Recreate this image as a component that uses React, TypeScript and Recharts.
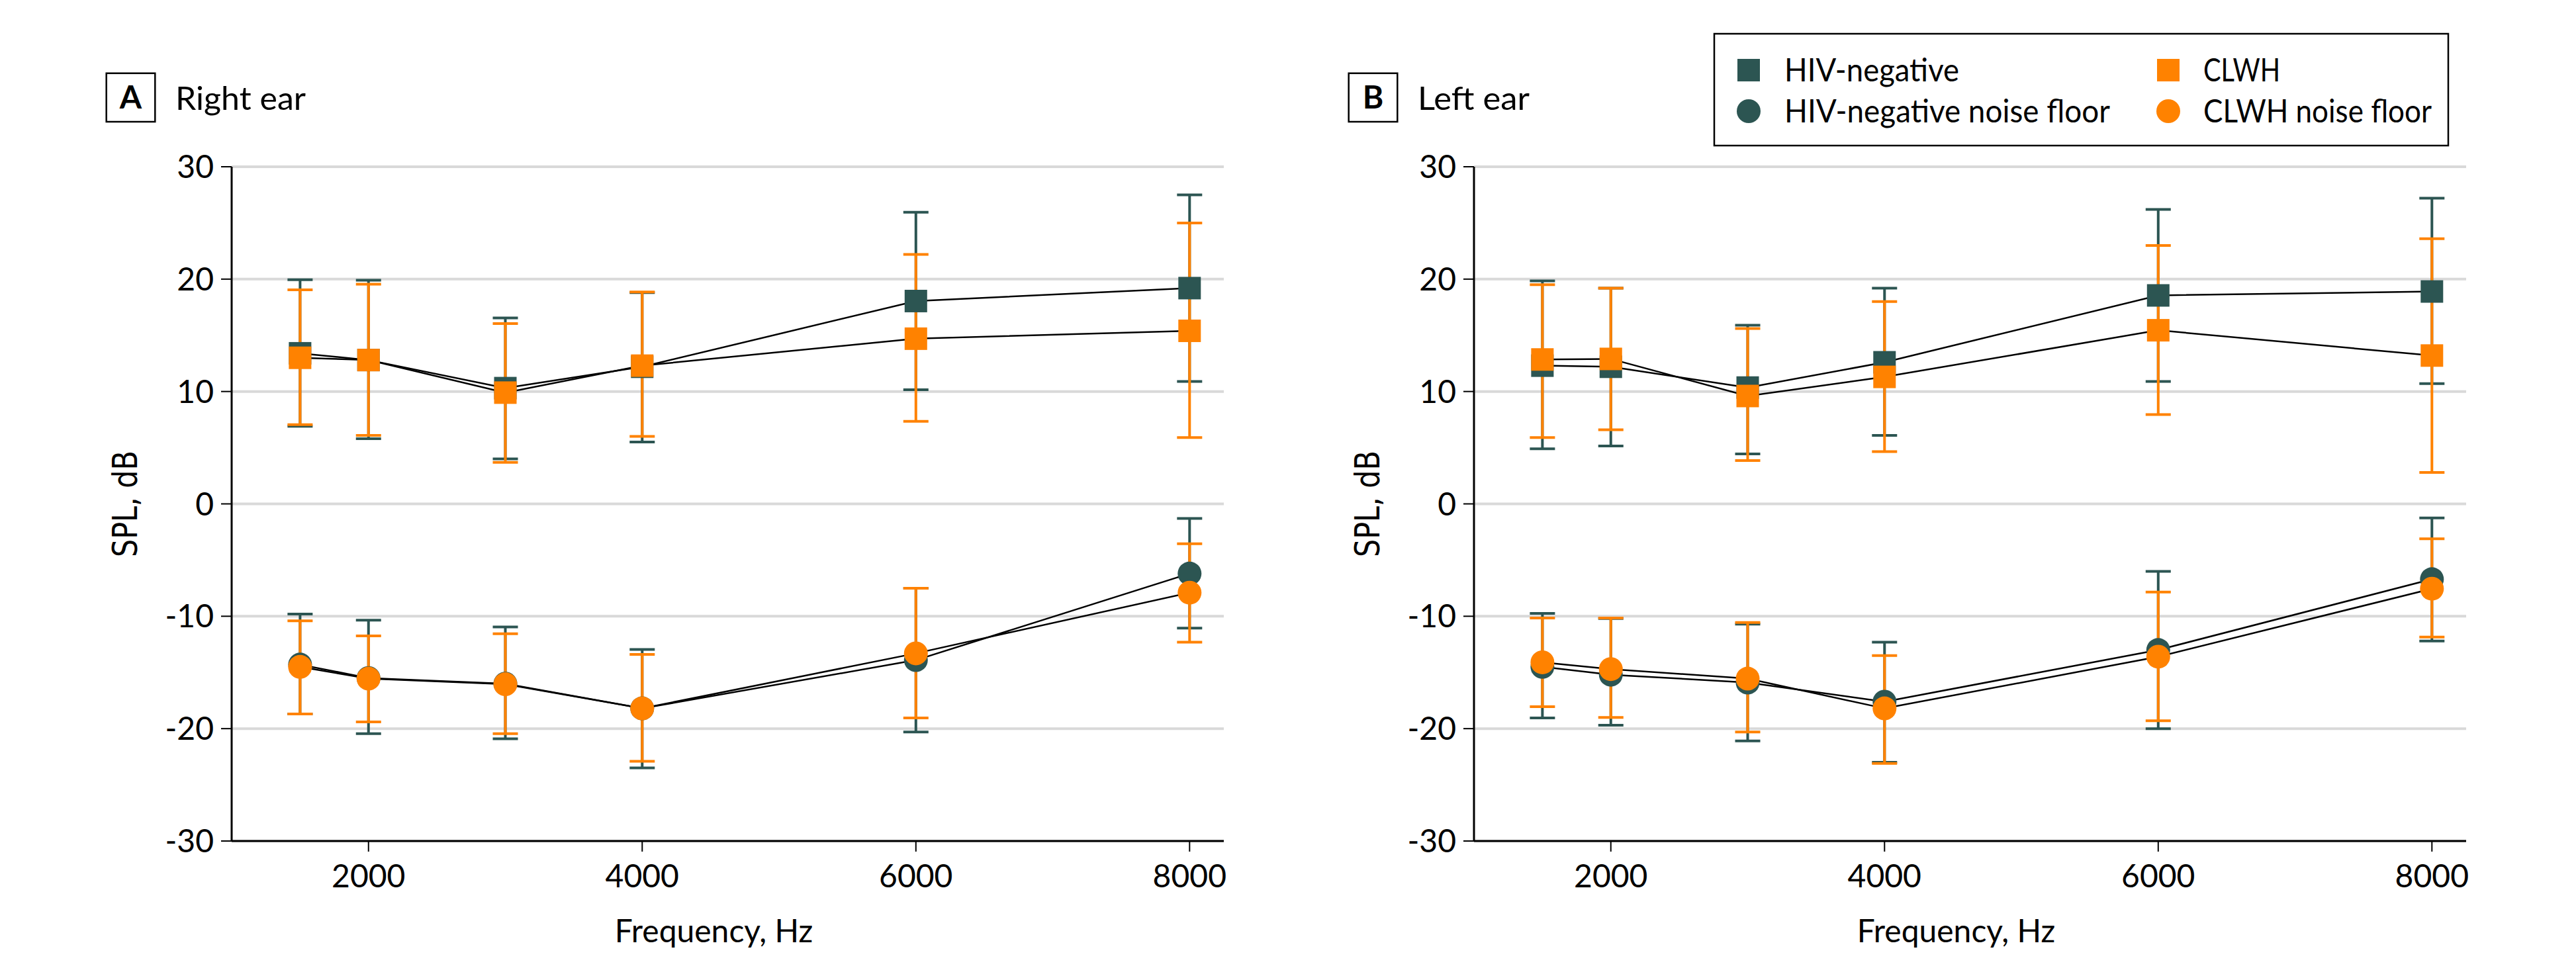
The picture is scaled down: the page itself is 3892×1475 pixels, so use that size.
import { CartesianGrid, ErrorBar, Label, Scatter, ScatterChart, XAxis, YAxis } from "recharts";

const FREQUENCIES = [1500, 2000, 3000, 4000, 6000, 8000];
const X_TICKS = [2000, 4000, 6000, 8000];
const Y_TICKS = [-30, -20, -10, 0, 10, 20, 30];

// A: right ear (mean, lower CI, upper CI)
const RIGHT_HIV_NEG = [13.4, 12.8, 10.3, 12.2, 18.05, 19.2];
const RIGHT_HIV_NEG_LO = [6.9, 5.8, 4.0, 5.5, 10.15, 10.9];
const RIGHT_HIV_NEG_HI = [19.95, 19.9, 16.55, 18.8, 25.95, 27.5];
const RIGHT_CLWH = [13.0, 12.8, 9.9, 12.3, 14.7, 15.4];
const RIGHT_CLWH_LO = [7.05, 6.1, 3.7, 6.0, 7.35, 5.9];
const RIGHT_CLWH_HI = [19.05, 19.55, 16.05, 18.85, 22.2, 25.0];
const RIGHT_HIV_NEG_NOISE = [-14.3, -15.5, -16.0, -18.2, -13.9, -6.2];
const RIGHT_HIV_NEG_NOISE_LO = [-18.7, -20.45, -20.9, -23.5, -20.3, -11.05];
const RIGHT_HIV_NEG_NOISE_HI = [-9.8, -10.35, -10.95, -12.95, -7.5, -1.3];
const RIGHT_CLWH_NOISE = [-14.5, -15.55, -16.05, -18.2, -13.3, -7.9];
const RIGHT_CLWH_NOISE_LO = [-18.7, -19.4, -20.45, -22.9, -19.05, -12.3];
const RIGHT_CLWH_NOISE_HI = [-10.4, -11.75, -11.55, -13.4, -7.5, -3.55];

// B: left ear
const LEFT_HIV_NEG = [12.3, 12.2, 10.35, 12.6, 18.55, 18.9];
const LEFT_HIV_NEG_LO = [4.9, 5.15, 4.45, 6.1, 10.9, 10.7];
const LEFT_HIV_NEG_HI = [19.85, 19.2, 15.9, 19.2, 26.2, 27.2];
const LEFT_CLWH = [12.85, 12.9, 9.6, 11.3, 15.45, 13.2];
const LEFT_CLWH_LO = [5.9, 6.6, 3.85, 4.65, 7.95, 2.8];
const LEFT_CLWH_HI = [19.5, 19.2, 15.6, 18.0, 23.0, 23.6];
const LEFT_HIV_NEG_NOISE = [-14.5, -15.2, -15.9, -17.6, -13.0, -6.7];
const LEFT_HIV_NEG_NOISE_LO = [-19.05, -19.7, -21.1, -23.0, -20.0, -12.2];
const LEFT_HIV_NEG_NOISE_HI = [-9.75, -10.2, -10.7, -12.3, -6.0, -1.25];
const LEFT_CLWH_NOISE = [-14.1, -14.7, -15.55, -18.2, -13.6, -7.55];
const LEFT_CLWH_NOISE_LO = [-18.05, -19.0, -20.3, -23.1, -19.3, -11.85];
const LEFT_CLWH_NOISE_HI = [-10.15, -10.15, -10.55, -13.5, -7.85, -3.1];

const TEAL = "#2c5552";
const ORANGE = "#ff8200";
const FONT = "Lato, 'Liberation Sans', sans-serif";

type Pt = { freq: number; spl: number; lo: number; hi: number };

const toPoints = (mean: number[], lo: number[], hi: number[]): Pt[] =>
  FREQUENCIES.map((f, i) => ({ freq: f, spl: mean[i], lo: lo[i], hi: hi[i] }));

// asymmetric CI as [below, above] the mean
const ciOffsets = (d: Pt) => [d.spl - d.lo, d.hi - d.spl];

const square = (color: string) => (p: any) =>
  <rect x={p.cx - 17} y={p.cy - 17} width={34} height={34} fill={color} />;
const dot = (color: string) => (p: any) => <circle cx={p.cx} cy={p.cy} r={18} fill={color} />;
const nothing = () => <g />;

type Group = { name: string; color: string; points: Pt[]; shape: (p: any) => any };

const makeGroups = (
  neg: Pt[],
  clwh: Pt[],
  negNoise: Pt[],
  clwhNoise: Pt[]
): Group[] => [
  { name: "HIV-negative", color: TEAL, points: neg, shape: square(TEAL) },
  { name: "CLWH", color: ORANGE, points: clwh, shape: square(ORANGE) },
  { name: "HIV-negative noise floor", color: TEAL, points: negNoise, shape: dot(TEAL) },
  { name: "CLWH noise floor", color: ORANGE, points: clwhNoise, shape: dot(ORANGE) },
];

const RIGHT_GROUPS = makeGroups(
  toPoints(RIGHT_HIV_NEG, RIGHT_HIV_NEG_LO, RIGHT_HIV_NEG_HI),
  toPoints(RIGHT_CLWH, RIGHT_CLWH_LO, RIGHT_CLWH_HI),
  toPoints(RIGHT_HIV_NEG_NOISE, RIGHT_HIV_NEG_NOISE_LO, RIGHT_HIV_NEG_NOISE_HI),
  toPoints(RIGHT_CLWH_NOISE, RIGHT_CLWH_NOISE_LO, RIGHT_CLWH_NOISE_HI)
);
const LEFT_GROUPS = makeGroups(
  toPoints(LEFT_HIV_NEG, LEFT_HIV_NEG_LO, LEFT_HIV_NEG_HI),
  toPoints(LEFT_CLWH, LEFT_CLWH_LO, LEFT_CLWH_HI),
  toPoints(LEFT_HIV_NEG_NOISE, LEFT_HIV_NEG_NOISE_LO, LEFT_HIV_NEG_NOISE_HI),
  toPoints(LEFT_CLWH_NOISE, LEFT_CLWH_NOISE_LO, LEFT_CLWH_NOISE_HI)
);

const PANEL_OFFSET = 1877;

const xTitle = ({ viewBox }: any) => (
  <text
    x={viewBox.x + viewBox.width / 2 - 21}
    y={viewBox.y + 153}
    textAnchor="middle"
    fontFamily={FONT}
    fontSize={48}
    fill="#000"
  >
    Frequency, Hz
  </text>
);

const yTitle = ({ viewBox }: any) => {
  const x = viewBox.x + 57;
  const y = viewBox.y + viewBox.height / 2;
  return (
    <text
      x={x}
      y={y}
      transform={`rotate(-90, ${x}, ${y})`}
      textAnchor="middle"
      fontFamily="'DejaVu Sans', sans-serif"
      fontSize={52}
      textLength={161}
      lengthAdjust="spacingAndGlyphs"
      fill="#000"
    >
      SPL, dB
    </text>
  );
};

function EarPanel({ left, groups }: { left: number; groups: Group[] }) {
  return (
    <div style={{ position: "absolute", left, top: 0 }}>
      <ScatterChart width={1900} height={1475} margin={{ top: 252, right: 51, bottom: 0, left: 150 }}>
        <CartesianGrid vertical={false} stroke="#d9d9d9" strokeWidth={4} />
        <XAxis
          type="number"
          dataKey="freq"
          domain={[1000, 8250]}
          ticks={X_TICKS}
          allowDataOverflow
          height={204}
          tickSize={16}
          tickMargin={20}
          axisLine={{ stroke: "#000", strokeWidth: 3 }}
          tickLine={{ stroke: "#000", strokeWidth: 2 }}
          tick={{ fontFamily: FONT, fontSize: 48, fill: "#000" }}
        >
          <Label content={xTitle} />
        </XAxis>
        <YAxis
          type="number"
          dataKey="spl"
          domain={[-30, 30]}
          ticks={Y_TICKS}
          width={200}
          tickSize={16}
          tickMargin={11}
          axisLine={{ stroke: "#000", strokeWidth: 3 }}
          tickLine={{ stroke: "#000", strokeWidth: 2 }}
          tick={{ fontFamily: FONT, fontSize: 48, fill: "#000" }}
        >
          <Label content={yTitle} />
        </YAxis>

        {/* error bars and connecting lines go under every marker */}
        {groups.map((g) => (
          <Scatter
            key={`${g.name}-ci`}
            name={`${g.name} CI`}
            data={g.points}
            shape={nothing}
            line={{ stroke: "#000", strokeWidth: 2.5 }}
            lineType="joint"
            isAnimationActive={false}
          >
            <ErrorBar dataKey={ciOffsets} direction="y" width={19} stroke={g.color} strokeWidth={4} />
          </Scatter>
        ))}
        {groups.map((g) => (
          <Scatter key={g.name} name={g.name} data={g.points} shape={g.shape} isAnimationActive={false} />
        ))}
      </ScatterChart>
    </div>
  );
}

function PanelTitle({ dx, letter, title, width }: { dx: number; letter: string; title: string; width: number }) {
  return (
    <g>
      <rect x={160.7 + dx} y={110.7} width={73.6} height={73.3} fill="#fff" stroke="#000" strokeWidth={2.5} />
      <text x={197.5 + dx} y={164} textAnchor="middle" fontFamily={FONT} fontWeight={700} fontSize={48}>
        {letter}
      </text>
      <text x={265 + dx} y={166} fontFamily={FONT} fontSize={49} textLength={width} lengthAdjust="spacingAndGlyphs">
        {title}
      </text>
    </g>
  );
}

const LEGEND_ITEMS = [
  { label: "HIV-negative", color: TEAL, kind: "square", col: 0, row: 0, width: 264 },
  { label: "HIV-negative noise floor", color: TEAL, kind: "circle", col: 0, row: 1, width: 492 },
  { label: "CLWH", color: ORANGE, kind: "square", col: 1, row: 0, width: 116 },
  { label: "CLWH noise floor", color: ORANGE, kind: "circle", col: 1, row: 1, width: 345 },
];

function LegendBox() {
  const colX = [2642, 3276];
  const textX = [2696, 3329];
  const rowY = [106, 168];
  return (
    <g>
      <rect x={2590} y={51} width={1109} height={169} fill="#fff" stroke="#000" strokeWidth={2.5} />
      {LEGEND_ITEMS.map((it) => (
        <g key={it.label}>
          {it.kind === "square" ? (
            <rect x={colX[it.col] - 17} y={rowY[it.row] - 17} width={34} height={34} fill={it.color} />
          ) : (
            <circle cx={colX[it.col]} cy={rowY[it.row]} r={18} fill={it.color} />
          )}
          <text
            x={textX[it.col]}
            y={rowY[it.row] + 17}
            fontFamily={FONT}
            fontSize={48}
            textLength={it.width}
            lengthAdjust="spacingAndGlyphs"
          >
            {it.label}
          </text>
        </g>
      ))}
    </g>
  );
}

export default function App() {
  return (
    <div style={{ position: "absolute", left: 0, top: 0, width: 3892, height: 1475, background: "#fff" }}>
      <EarPanel left={0} groups={RIGHT_GROUPS} />
      <EarPanel left={PANEL_OFFSET} groups={LEFT_GROUPS} />
      <svg
        width={3892}
        height={1475}
        style={{ position: "absolute", left: 0, top: 0, pointerEvents: "none" }}
      >
        <PanelTitle dx={0} letter="A" title="Right ear" width={197} />
        <PanelTitle dx={PANEL_OFFSET} letter="B" title="Left ear" width={169} />
        <LegendBox />
      </svg>
    </div>
  );
}
